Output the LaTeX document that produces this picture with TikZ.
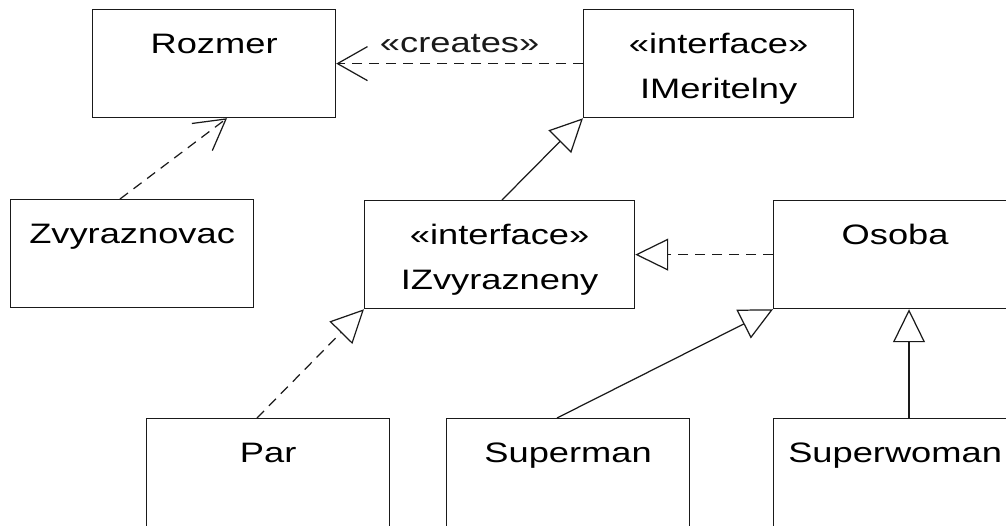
\documentclass[tikz,border=0pt]{standalone}
\usepackage{fontspec}
\setmainfont{Liberation Sans}[FakeStretch=1.29]
\usetikzlibrary{arrows.meta, calc}
\definecolor{umlline}{HTML}{1A1A1A}
\tikzset{
  classbox/.style={draw=umlline, line width=0.7pt, anchor=north west, inner sep=0pt,
    text width=4.86cm, align=center, text height=0.88cm, text depth=1.28cm},
  ifacebox/.style={classbox, text width=5.40cm},
  depend/.style={dash pattern=on 0.2cm off 0.14cm, line width=0.7pt, color=umlline,
    -{Straight Barb[length=0.6cm, width=0.68cm]}},
  inherit/.style={line width=0.7pt, color=umlline, -{Triangle[open, length=0.66cm, width=0.64cm]}},
  realize/.style={inherit, dash pattern=on 0.2cm off 0.14cm},
  every node/.append style={font=\fontsize{16pt}{25.6pt}\selectfont}
}

\begin{document}
\begin{tikzpicture}
\useasboundingbox (0,0) rectangle (20.12,-10.5);
% classes
\node[classbox] (rozmer) at (1.84,-0.18) {Rozmer};
\node[ifacebox] (imeritelny) at (11.66,-0.18) {«interface»\\IMeritelny};
\node[classbox] (zvyraznovac) at (0.20,-3.98) {Zvyraznovac};
\node[ifacebox] (izvyrazneny) at (7.28,-4.00) {«interface»\\IZvyrazneny};
\node[classbox] (osoba) at (15.46,-4.00) {Osoba};
\node[classbox] (par) at (2.92,-8.36) {Par};
\node[classbox] (superman) at (8.92,-8.36) {Superman};
\node[classbox] (superwoman) at (15.46,-8.36) {Superwoman};
% relations
\draw[depend] (imeritelny.west) -- node[anchor=base, yshift=0.22cm] (creates) {«creates»} (rozmer.east);
\draw[depend] ([xshift=2.2cm]zvyraznovac.north west) -- ([xshift=2.7cm]rozmer.south west);
\draw[inherit] ([xshift=2.76cm]izvyrazneny.north west) -- (imeritelny.south west);
\draw[realize] (osoba.west) -- (izvyrazneny.east);
\draw[realize] ([xshift=2.22cm]par.north west) -- (izvyrazneny.south west);
\draw[inherit] ([xshift=2.22cm]superman.north west) -- (osoba.south west);
\draw[inherit] ([xshift=2.72cm]superwoman.north west) -- ([xshift=2.72cm]osoba.south west);
\end{tikzpicture}
\end{document}
